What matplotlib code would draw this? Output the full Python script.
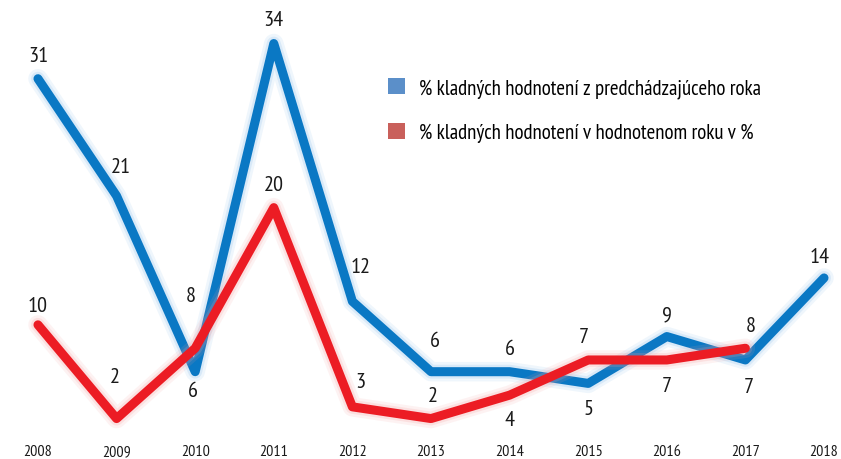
import matplotlib
matplotlib.use("Agg")
import matplotlib.pyplot as plt
import matplotlib.patheffects as pe
from matplotlib.patches import Patch

plt.rcParams['font.family'] = ['PT Sans Narrow', 'DejaVu Sans']

years = [2008, 2009, 2010, 2011, 2012, 2013, 2014, 2015, 2016, 2017, 2018]
blue_vals = [31, 21, 6, 34, 12, 6, 6, 5, 9, 7, 14]
red_years = [2008, 2009, 2010, 2011, 2012, 2013, 2014, 2015, 2016, 2017]
red_vals = [10, 2, 8, 20, 3, 2, 4, 7, 7, 8]
blue_name = "% kladných hodnotení z predchádzajúceho roka"
red_name = "% kladných hodnotení v hodnotenom roku v %"

# label offsets in pixels (dx, dy; dy positive = up)
blue_off = [(0, 23), (4, 29), (-2, -19), (0, 24), (8, 35), (4, 31), (0, 23), (0, -25), (0, 22), (3, -27), (-4, 21)]
red_off = [(0, 19), (-2, 42), (-4, 53), (0, 23), (8, 25), (2, 23), (0, -24), (-4, 23), (0, -26), (5, 23)]

BLUE = '#0a78c4'
RED = '#ec1c24'

fig = plt.figure(figsize=(8.41, 4.60), dpi=100)
ax = fig.add_axes([0, 0, 1, 1])
ax.set_xlim(2007.517, 2018.216)
ax.set_ylim(-1.45, 37.8)
ax.axis('off')

def glow(color):
    return [pe.Stroke(linewidth=14, foreground=color, alpha=0.12),
            pe.Stroke(linewidth=10, foreground=color, alpha=0.2),
            pe.Normal()]

ax.plot(years, blue_vals, color=BLUE, lw=6.5, solid_capstyle='round',
        solid_joinstyle='round', path_effects=glow('#7fb8e8'), zorder=2, clip_on=False)
ax.plot(red_years, red_vals, color=RED, lw=6.5, solid_capstyle='round',
        solid_joinstyle='round', path_effects=glow('#f59a9a'), zorder=3, clip_on=False)

px = 0.72  # points per pixel at dpi 100
for x, v, (dx, dy) in zip(years, blue_vals, blue_off):
    ax.annotate(str(v), (x, v), xytext=(dx * px, dy * px), textcoords='offset points',
                ha='center', va='center', fontsize=16, color='#1a1a1a', zorder=5)
for x, v, (dx, dy) in zip(red_years, red_vals, red_off):
    ax.annotate(str(v), (x, v), xytext=(dx * px, dy * px), textcoords='offset points',
                ha='center', va='center', fontsize=16, color='#1a1a1a', zorder=5)

for y in years:
    ax.annotate(str(y), (y, 0), xytext=(0, -9 * px), textcoords='offset points',
                ha='center', va='center', fontsize=11.5, color='#1a1a1a')

handles = [Patch(facecolor='#5b8fc9', edgecolor='none', label=blue_name),
           Patch(facecolor='#c9605b', edgecolor='none', label=red_name)]
fig.legend(handles=handles, loc='upper left', bbox_to_anchor=(388 / 841, 1 - 79 / 460),
           frameon=False, fontsize=15, handlelength=0.8, handleheight=0.8,
           handletextpad=0.7, labelspacing=1.2, borderpad=0, borderaxespad=0)

fig.savefig('out.png', dpi=100)
